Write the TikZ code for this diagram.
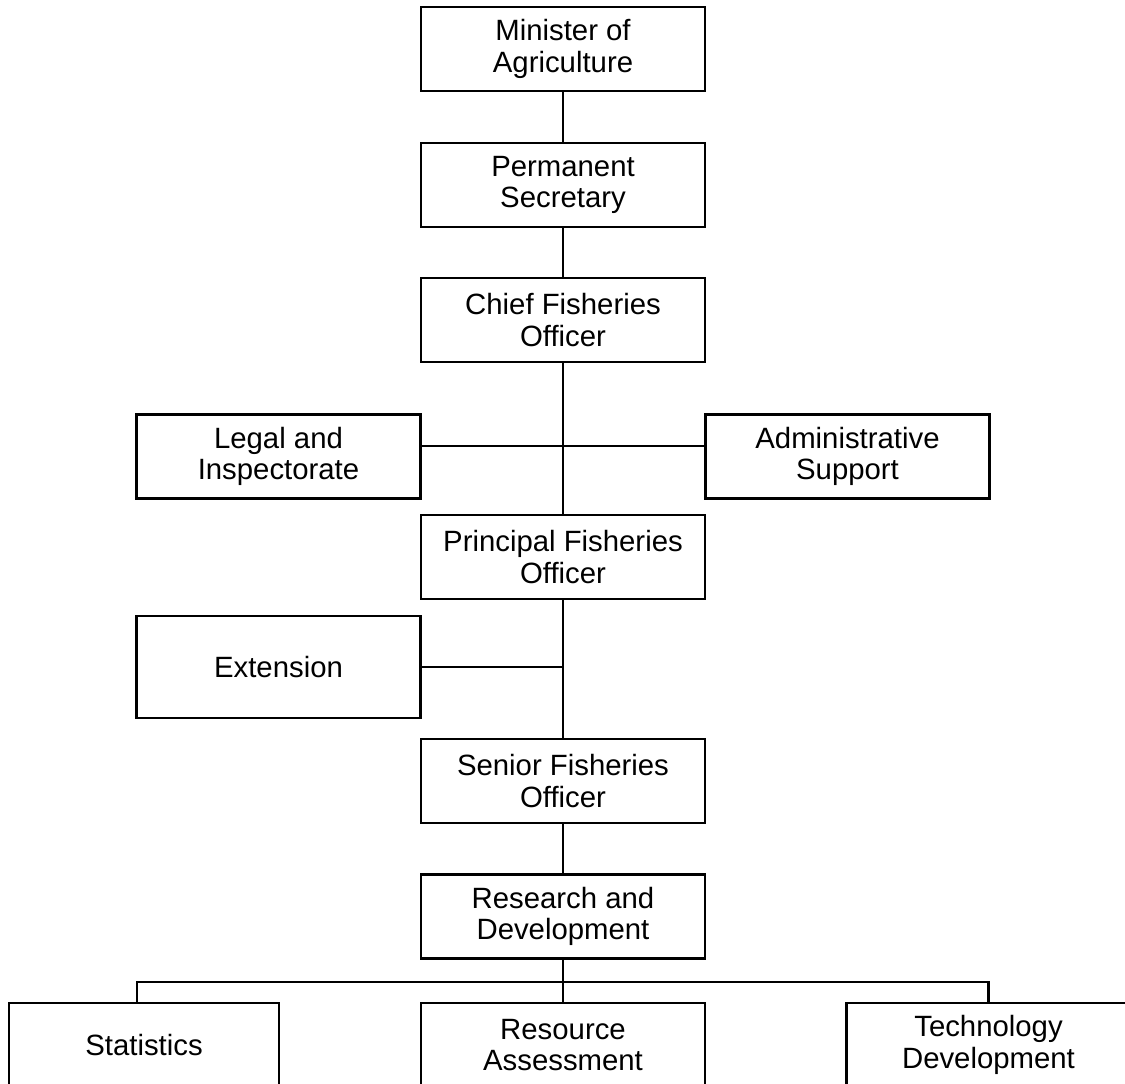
\documentclass[tikz,border=0pt]{standalone}
\usepackage{fontspec}
\setmainfont{Liberation Sans}
\begin{document}
\begin{tikzpicture}[x=0.75pt,y=-0.75pt,
  unit/.style={draw,line width=2.2pt,align=center,
    font=\fontsize{22}{23.5}\selectfont,inner sep=0pt,
    minimum width=213pt,minimum height=63pt},
  link/.style={line width=2pt}]
\useasboundingbox (0,0) rectangle (1125,1084);
\clip (0,0) rectangle (1125,1084);

% chain of command
\node[unit] (min)    at (563,49)  {Minister of\\Agriculture};
\node[unit] (perm)   at (563,185) {Permanent\\Secretary};
\node[unit] (chief)  at (563,320) {Chief Fisheries\\Officer};
\node[unit] (legal)  at (278.5,456.5) {Legal and\\Inspectorate};
\node[unit] (admin)  at (847.5,456.5) {Administrative\\Support};
\node[unit] (princ)  at (563,557) {Principal Fisheries\\Officer};
\node[unit,minimum height=76.5pt] (ext) at (278.5,667) {Extension};
\node[unit] (senior) at (563,781) {Senior Fisheries\\Officer};
\node[unit] (rd)     at (563,916.5) {Research and\\Development};

% sections under research
\node[unit,minimum width=202.5pt] (stats) at (144,1045) {Statistics};
\node[unit] (res)    at (563,1045) {Resource\\Assessment};
\node[unit] (tech)   at (988.5,1045) {Technology\\Development};

% connectors
\draw[link] (min) -- (perm);
\draw[link] (perm) -- (chief);
\draw[link] (chief) -- (princ);
\coordinate (sidejoin) at (563,446);
\draw[link] (legal.east |- sidejoin) -- (admin.west |- sidejoin);
\draw[link] (princ) -- (senior);
\draw[link] (ext.east) -- (ext.east -| princ.south);
\draw[link] (senior) -- (rd);
\coordinate (bar) at (563,982);
\coordinate (statsdrop) at (137,1003.5);
\draw[link] (rd.south) -- (res.north);
\draw[link] (statsdrop) |- (bar -| tech.north) -- (tech.north);
\end{tikzpicture}
\end{document}
